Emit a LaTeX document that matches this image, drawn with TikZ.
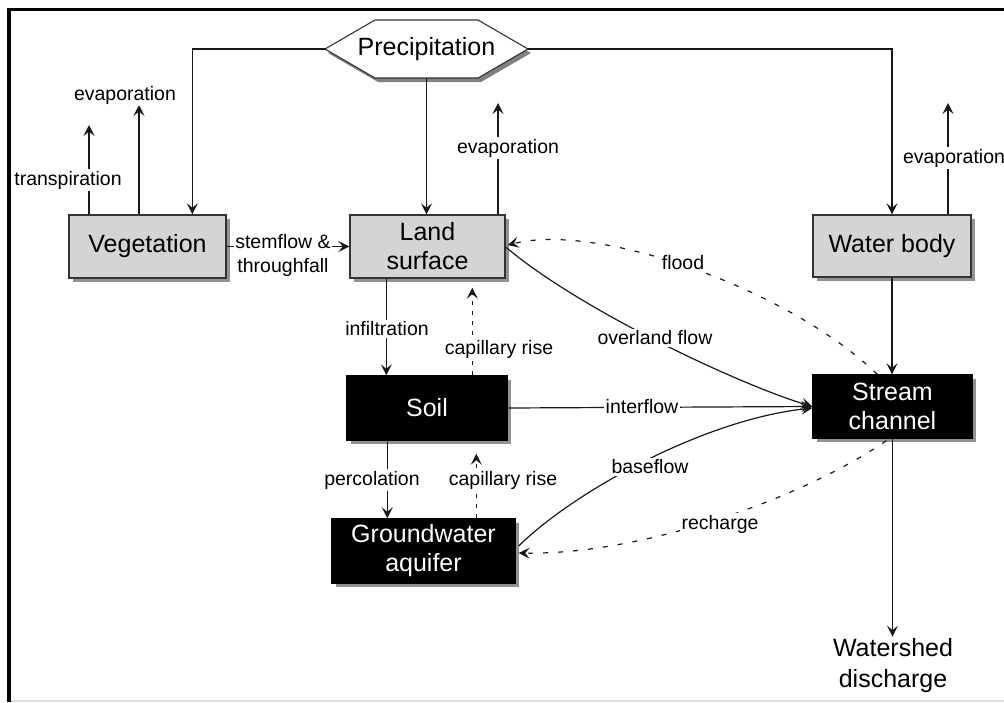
\documentclass[tikz,border=0pt]{standalone}
\usepackage{fontspec}
\setmainfont{Liberation Sans}
\usetikzlibrary{arrows.meta,shadows,calc}
\begin{document}
\begin{tikzpicture}[x=1pt,y=-1pt,
  lbl/.style={font=\fontsize{19.5}{24}\selectfont, fill=white, inner sep=1.5pt, align=center},
  boxbase/.style={line width=1.4pt, inner sep=0pt, align=center,
     font=\fontsize{25}{29}\selectfont,
     drop shadow={shadow xshift=4pt, shadow yshift=-4pt, fill=black!50, opacity=0.85}},
  greybox/.style={boxbase, draw=black!80, fill=black!17},
  blackbox/.style={boxbase, draw=black, fill=black, text=white},
  conn/.style={line width=1.2pt, draw=black!90},
  arr/.style={conn, -{Stealth[length=11pt,width=11pt,inset=4.5pt]}},
  dcurve/.style={arr, dash pattern=on 5pt off 10pt},
  dvert/.style={arr, dash pattern=on 4pt off 6pt},
]
\useasboundingbox (0,0) rectangle (1004,702);
\fill[white] (0,0) rectangle (1004,702);

% frame
\draw[line width=3.5pt] (9,702) -- (9,9.5) -- (1004,9.5);
\draw[black!12, line width=1.5pt] (11,701) -- (1004,701);

% precipitation hexagon
\coordinate (pL) at (325,49);
\coordinate (pTL) at (375,20);
\coordinate (pTR) at (478,20);
\coordinate (pR) at (528,49);
\coordinate (pBR) at (478,78);
\coordinate (pBL) at (375,78);
\coordinate (pB) at (426.5,78);
\fill[black!50] ($(pL)+(3,4)$) -- ($(pTL)+(3,4)$) -- ($(pTR)+(3,4)$) -- ($(pR)+(3,4)$) -- ($(pBR)+(3,4)$) -- ($(pBL)+(3,4)$) -- cycle;
\draw[line width=1.1pt, draw=black!80, fill=white] (pL) -- (pTL) -- (pTR) -- (pR) -- (pBR) -- (pBL) -- cycle;
\node[font=\fontsize{25}{29}\selectfont] (precip) at (426.5,49) {Precipitation};

% boxes
\node[greybox, minimum width=157pt, minimum height=63pt] (veg) at (147.5,246.5) {Vegetation};
\node[greybox, minimum width=155pt, minimum height=63pt] (land) at (427.5,246.5) {Land\\surface};
\node[greybox, minimum width=158pt, minimum height=62pt] (water) at (892,246) {Water body};
\node[blackbox, minimum width=160pt, minimum height=64pt] (soil) at (427,408) {Soil};
\node[blackbox, minimum width=183pt, minimum height=64pt] (gw) at (423.5,551) {Groundwater\\aquifer};
\node[blackbox, minimum width=159pt, minimum height=63pt] (stream) at (892.5,406.5) {Stream\\channel};
\node[font=\fontsize{25}{31}\selectfont, align=center, inner sep=2pt] (ws) at (893,666) {Watershed\\discharge};

% free ends
\coordinate (vegTr) at (89,125);
\coordinate (vegEv) at (139,105);
\coordinate (landEv) at (498,103);
\coordinate (waterEv) at (948,103);

% precipitation connectors
\draw[arr] (pL) -| ($(veg.north west)+(124,0)$);
\draw[arr] (pB) -- (pB |- land.north);
\draw[arr] (pR) -| (water.north);

% evaporation / transpiration
\draw[arr] (vegTr |- veg.north) -- (vegTr);
\draw[arr] (vegEv |- veg.north) -- (vegEv);
\draw[arr] (landEv |- land.north) -- (landEv);
\draw[arr] (waterEv |- water.north) -- (waterEv);
\node[lbl] (lTr) at (68,180) {transpiration};
\node[lbl] (lVe) at (125,95) {evaporation};
\node[lbl] (lLe) at (508,148) {evaporation};
\node[lbl] (lWe) at (954,158) {evaporation};

% stemflow
\draw[arr] (veg.east) -- (land.west);
\node[lbl] (lSt) at (283,255) {stemflow \&\\throughfall};

% vertical soil connectors
\draw[arr] ($(land.south west)+(37,0)$) -- ($(soil.north west)+(40,0)$);
\node[lbl] (lIn) at (387,329) {infiltration};
\draw[dvert] ($(soil.north west)+(126,0)$) -- ($(land.south west)+(123,9)$);
\node[lbl] (lC1) at (499,349) {capillary rise};
\draw[arr] ($(soil.south west)+(41,0)$) -- ($(gw.north west)+(56,0)$);
\node[lbl] (lPe) at (372,480) {percolation};
\draw[dvert] ($(gw.north west)+(145,0)$) -- ($(soil.south west)+(130,13)$);
\node[lbl] (lC2) at (503,480) {capillary rise};

% interflow
\draw[arr] (soil.east) -- (stream.west);
\node[lbl] (lIf) at (642,407) {interflow};

% overland flow
\draw[arr] ($(land.east)+(0,0.5)$) .. controls (580,310) and (740,385) .. (stream.west);
\node[lbl] (lOv) at (655,338) {overland flow};

% flood
\draw[dcurve] ($(stream.north west)+(65,0)$) .. controls (790,290) and (600,222) .. ($(land.east)+(2,-1.5)$);
\node[lbl] (lFl) at (683,263) {flood};

% baseflow
\draw[arr] ($(gw.east)+(3,-5)$) .. controls (570,495) and (700,420) .. ($(stream.west)+(0,1.5)$);
\node[lbl] (lBa) at (650,467) {baseflow};

% recharge
\draw[dcurve] ($(stream.south west)+(74,2)$) .. controls (800,500) and (640,555) .. ($(gw.east)+(3,2)$);
\node[lbl] (lRe) at (720,524) {recharge};

% water body -> stream -> discharge
\draw[arr] (water.south) -- (water.south |- stream.north);
\draw[arr] (stream.south) -- (stream.south |- ws.north);
\end{tikzpicture}
\end{document}
